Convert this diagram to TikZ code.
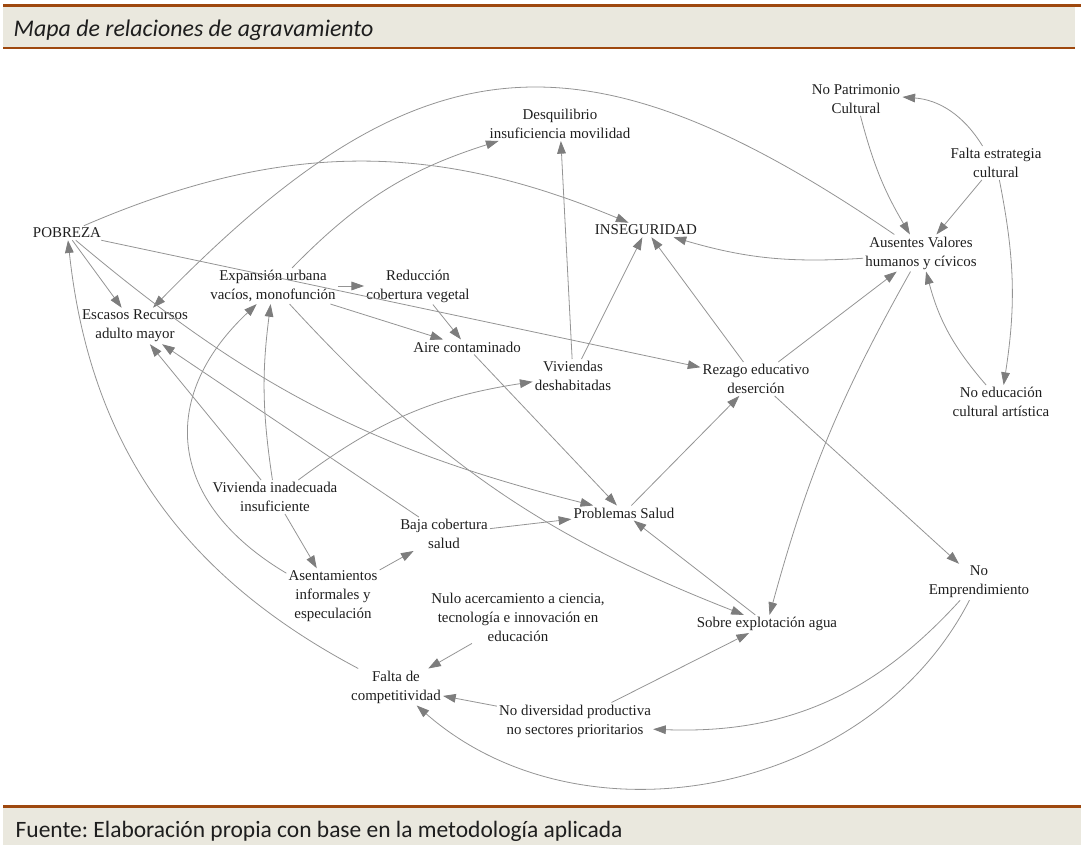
\documentclass[tikz,border=0pt]{standalone}
\usepackage{fontspec}
\setmainfont{Liberation Serif}
\newfontfamily\nodefont{Liberation Serif}
\newfontfamily\calibfont{Carlito}
\usetikzlibrary{arrows.meta}
\definecolor{barbrown}{RGB}{158,72,14}
\definecolor{barbeige}{RGB}{234,232,222}
\definecolor{linkgray}{RGB}{148,148,148}
\definecolor{tipgray}{RGB}{125,125,125}
\definecolor{labeldark}{RGB}{30,30,30}
\frenchspacing

\begin{document}
\begin{tikzpicture}[x=0.75pt,y=0.75pt]
\tikzset{vertex/.style = {align=center, inner sep=1.5pt, text=labeldark, font=\nodefont\fontsize{11.2}{14.2}\selectfont}}
\tikzset{edge/.style = {->, >={Triangle[length=9.5pt,width=6.5pt,color=tipgray]}, draw=linkgray, line width=0.6pt}}
\useasboundingbox (0,0) rectangle (1081,845);
% title and source bars
\fill[barbeige] (3,798) rectangle (1075,838);
\draw[barbrown, line width=2.2pt] (3,839.5) -- (1081,839.5);
\draw[barbrown, line width=2pt] (3,797) -- (1075,797);
\fill[barbeige] (3,0) rectangle (1081,37);
\draw[barbrown, line width=2.2pt] (3,38.5) -- (1081,38.5);
\node[anchor=west, text=labeldark, font=\calibfont\itshape\fontsize{17.9}{20}\selectfont] (v_title) at (9,815) {Mapa de relaciones de agravamiento};
\node[anchor=west, text=labeldark, font=\calibfont\fontsize{17.6}{20}\selectfont] (v_source) at (11,14) {Fuente: Elaboración propia con base en la metodología aplicada};
% factors
\node[vertex] (v_pobreza) at (67,612) {POBREZA};
\node[vertex] (v_desq) at (560,721) {Desquilibrio\\insuficiencia movilidad};
\node[vertex] (v_inseg) at (646,615) {INSEGURIDAD};
\node[vertex] (v_patrim) at (856,746) {No Patrimonio\\Cultural};
\node[vertex] (v_festrat) at (996,682) {Falta estrategia\\cultural};
\node[vertex] (v_ausentes) at (921,592) {Ausentes Valores\\humanos y cívicos};
\node[vertex] (v_escasos) at (135,519) {Escasos Recursos\\adulto mayor};
\node[vertex] (v_expansion) at (273,559) {Expansión urbana\\vacíos, monofunción};
\node[vertex] (v_reduccion) at (418,559) {Reducción\\cobertura vegetal};
\node[vertex] (v_aire) at (467,498) {Aire contaminado};
\node[vertex] (v_vivdesh) at (573,469) {Viviendas\\deshabitadas};
\node[vertex] (v_rezago) at (756,466) {Rezago educativo\\deserción};
\node[vertex] (v_noeduc) at (1001,443) {No educación\\cultural artística};
\node[vertex] (v_vivinad) at (275,348) {Vivienda inadecuada\\insuficiente};
\node[vertex] (v_baja) at (444,311) {Baja cobertura\\salud};
\node[vertex] (v_probsalud) at (624,332) {Problemas Salud};
\node[vertex] (v_asent) at (333,249) {Asentamientos\\informales y\\especulación};
\node[vertex] (v_nulo) at (518,228) {Nulo acercamiento a ciencia,\\tecnología e innovación en\\educación};
\node[vertex] (v_sobreexp) at (767,221) {Sobre explotación agua};
\node[vertex] (v_noempr) at (979,263) {No\\Emprendimiento};
\node[vertex] (v_faltacomp) at (396,158) {Falta de\\competitividad};
\node[vertex] (v_nodiv) at (575,124) {No diversidad productiva\\no sectores prioritarios};
% links
\draw[edge] (v_pobreza) to[bend left=23] (v_inseg);
\draw[edge] (v_ausentes) to[bend right=40, looseness=1.3] (v_escasos);
\draw[edge] (v_expansion) to[bend left=14] (v_desq);
\draw[edge] (v_vivdesh) to (v_desq);
\draw[edge] (v_vivdesh) to (v_inseg);
\draw[edge] (v_rezago) to (v_inseg);
\draw[edge] (v_ausentes) to[bend left=10] (v_inseg);
\draw[edge] (v_festrat) to[bend right=27] (v_patrim);
\draw[edge] (v_patrim) to[bend right=8] (v_ausentes);
\draw[edge] (v_festrat) to (v_ausentes);
\draw[edge] (v_festrat) to[bend left=10] (v_noeduc);
\draw[edge] (v_noeduc) to[bend left=13] (v_ausentes);
\draw[edge] (v_rezago) to (v_ausentes);
\draw[edge] (v_ausentes) to[bend right=7] (v_sobreexp);
\draw[edge] (v_pobreza) to (v_rezago);
\draw[edge] (v_pobreza) to (v_escasos);
\draw[edge] (v_pobreza) to[bend right=13] (v_probsalud);
\draw[edge] (v_faltacomp) to[bend left=28] (v_pobreza);
\draw[edge] (v_expansion) to (v_reduccion);
\draw[edge] (v_expansion) to (v_aire);
\draw[edge] (v_reduccion) to (v_aire);
\draw[edge] (v_expansion) to[bend right=13] (v_sobreexp);
\draw[edge] (v_aire) to (v_probsalud);
\draw[edge] (v_vivinad) to (v_escasos);
\draw[edge] (v_baja) to (v_escasos);
\draw[edge] (v_vivinad) to[bend left=8] (v_expansion);
\draw[edge] (v_asent) to[bend left=53, looseness=1.3] (v_expansion);
\draw[edge] (v_vivinad) to[bend left=14] (v_vivdesh);
\draw[edge] (v_vivinad) to (v_asent);
\draw[edge] (v_asent) to (v_baja);
\draw[edge] (v_baja) to (v_probsalud);
\draw[edge] (v_probsalud) to (v_rezago);
\draw[edge] (v_sobreexp) to (v_probsalud);
\draw[edge] (v_rezago) to (v_noempr);
\draw[edge] (v_nulo) to (v_faltacomp);
\draw[edge] (v_nodiv) to (v_faltacomp);
\draw[edge] (v_nodiv) to (v_sobreexp);
\draw[edge] (v_noempr) to[bend left=25] (v_nodiv);
\draw[edge] (v_noempr) to[bend left=52] (v_faltacomp);
\end{tikzpicture}
\end{document}
